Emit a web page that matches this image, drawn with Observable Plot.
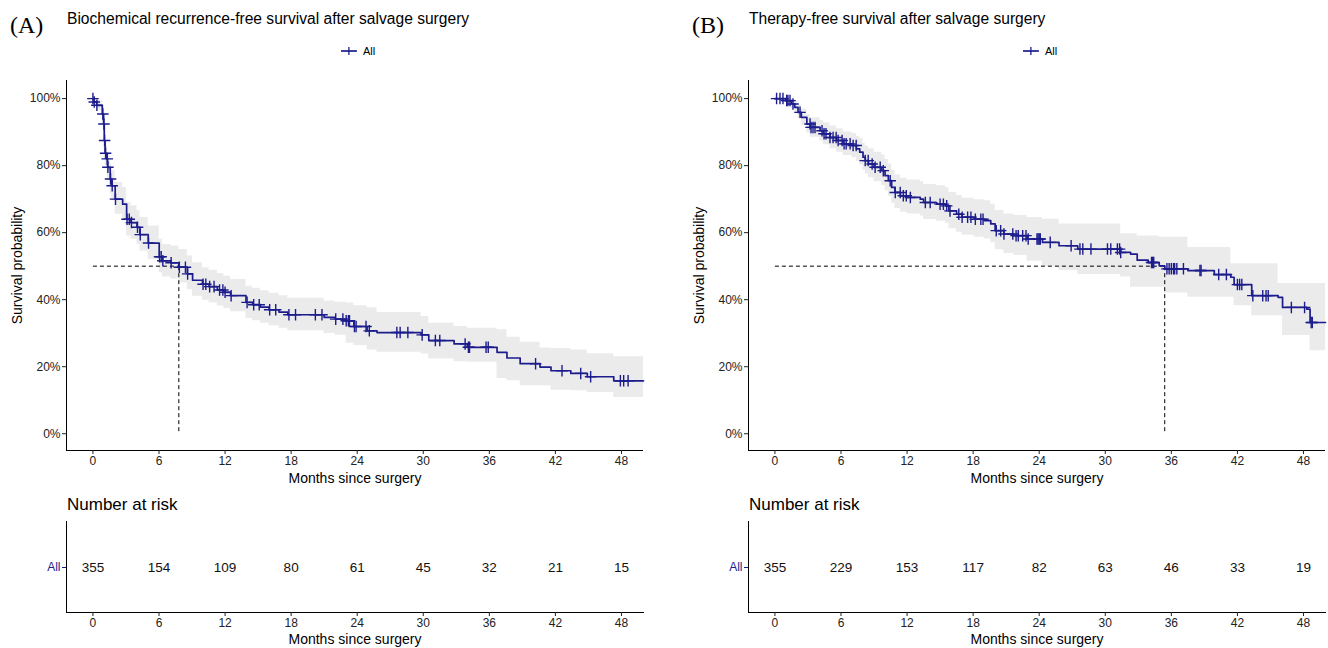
<!DOCTYPE html>
<html><head><meta charset="utf-8">
<script src="https://cdn.jsdelivr.net/npm/d3@7"></script>
<script src="https://cdn.jsdelivr.net/npm/@observablehq/plot@0.6"></script>
<style>
body{margin:0;background:#fff;font-family:"Liberation Sans",Arial,sans-serif;color:#000;}
#root{position:relative;width:1328px;height:648px;overflow:hidden;background:#fff;}
.abs{position:absolute;white-space:nowrap;}
.plotbox{width:660px;}
.plotbox svg{max-width:none !important;display:block;}
.tag{font-family:"Liberation Serif","Times New Roman",serif;font-size:24px;line-height:24px;}
.title{font-size:15.6px;line-height:16px;}
.risk{font-size:17px;line-height:17px;}
.legend{font-size:11px;line-height:12px;display:flex;align-items:center;transform:translateX(-50%);}
.legend svg{margin-right:6px;}
</style></head>
<body><div id="root"></div>
<script>
const monthTicks = [0, 6, 12, 18, 24, 30, 36, 42, 48];
const yTicks = [0, 0.2, 0.4, 0.6, 0.8, 1];
const xDomain = [-2.4, 50];
const yDomain = [-0.05, 1.054];
const navy = "#1c1c8c";
const xTitle = "Months since surgery";
const yTitle = "Survival probability";
const groupLabel = "All";

// Panel A: biochemical recurrence-free survival
const aTitle = "Biochemical recurrence-free survival after salvage surgery";
const aTime  = [0,0.1,0.35,0.85,0.97,1.03,1.1,1.27,1.33,1.57,1.72,2.02,2.7,3.06,3.45,4.0,4.27,5.02,6.02,6.32,7.08,7.8,8.57,9.05,9.95,10.55,11.3,11.9,12.5,13.9,14.5,15.2,16.0,16.9,17.7,21.0,22.0,23.0,23.7,24.9,25.8,29.8,30.5,32.8,34.0,36.7,37.6,38.8,40.6,41.6,43.4,44.9,47.3,50.0];
const aSurv  = [1,0.99,0.98,0.954,0.924,0.875,0.837,0.82,0.795,0.76,0.74,0.70,0.685,0.64,0.63,0.616,0.594,0.569,0.528,0.516,0.51,0.497,0.477,0.458,0.446,0.439,0.429,0.422,0.412,0.392,0.385,0.378,0.37,0.363,0.355,0.347,0.342,0.337,0.32,0.307,0.302,0.295,0.278,0.268,0.258,0.243,0.226,0.209,0.199,0.188,0.18,0.17,0.158,0.158];
const aLower = [1,0.98,0.965,0.93,0.895,0.84,0.80,0.78,0.755,0.715,0.695,0.655,0.635,0.59,0.58,0.565,0.545,0.52,0.48,0.468,0.462,0.45,0.43,0.41,0.398,0.391,0.381,0.374,0.364,0.344,0.337,0.33,0.322,0.315,0.307,0.299,0.294,0.27,0.263,0.25,0.243,0.238,0.223,0.215,0.213,0.165,0.158,0.143,0.143,0.13,0.128,0.123,0.108,0.108];
const aUpper = [1,1,0.995,0.975,0.95,0.91,0.875,0.86,0.84,0.805,0.785,0.75,0.735,0.69,0.68,0.665,0.645,0.62,0.58,0.565,0.56,0.55,0.53,0.51,0.495,0.488,0.478,0.47,0.46,0.44,0.434,0.427,0.419,0.412,0.404,0.396,0.392,0.39,0.382,0.376,0.362,0.35,0.33,0.32,0.315,0.31,0.288,0.273,0.256,0.254,0.25,0.239,0.23,0.23];
const aCensor = [0,0.12,0.36,0.9,1.0,1.06,1.15,1.3,1.36,1.6,1.75,2.05,3.1,3.3,3.5,4.05,4.3,5.05,6.05,6.2,6.35,7.1,7.85,8.4,8.6,10.0,10.25,10.6,11.0,11.5,11.8,12.0,12.55,14.0,14.6,15.1,16.05,16.6,17.8,18.4,20.2,20.8,22.05,22.7,23.0,23.2,23.3,23.75,23.9,24.8,25.1,27.6,27.9,28.6,29.9,31.1,31.5,33.8,34.1,34.2,35.7,35.9,40.2,42.6,44.3,45.2,47.9,48.2,48.6];
const aRisk = [355, 154, 109, 80, 61, 45, 32, 21, 15];

// Panel B: therapy-free survival
const bTitle = "Therapy-free survival after salvage surgery";
const bTime  = [0,1.0,1.5,1.8,2.1,2.4,2.9,3.2,4.1,4.4,5.0,5.6,6.2,7.0,7.4,7.7,8.0,8.2,8.5,9.0,9.7,10.0,10.3,10.6,10.9,11.4,12.0,13.2,13.5,14.7,15.5,15.8,16.5,17.0,18.1,19.0,19.6,20.0,20.8,21.7,22.9,24.3,25.8,27.5,31.4,32.3,32.9,33.9,34.9,35.4,37.5,39.9,41.4,41.7,43.3,45.7,46.1,48.3,48.6,50.0];
const bSurv  = [1,0.994,0.984,0.974,0.959,0.944,0.924,0.914,0.904,0.895,0.884,0.875,0.865,0.86,0.85,0.84,0.825,0.815,0.805,0.795,0.785,0.77,0.755,0.735,0.72,0.71,0.705,0.70,0.69,0.685,0.68,0.665,0.655,0.646,0.64,0.636,0.626,0.606,0.596,0.591,0.581,0.571,0.561,0.551,0.541,0.536,0.518,0.511,0.501,0.492,0.487,0.475,0.467,0.445,0.412,0.407,0.377,0.372,0.332,0.332];
const bLower = [1,0.986,0.97,0.957,0.94,0.92,0.897,0.885,0.873,0.862,0.85,0.84,0.83,0.824,0.813,0.802,0.786,0.775,0.764,0.752,0.741,0.725,0.709,0.688,0.672,0.661,0.656,0.65,0.639,0.634,0.628,0.612,0.601,0.592,0.586,0.581,0.57,0.549,0.538,0.532,0.515,0.50,0.487,0.475,0.468,0.437,0.437,0.437,0.437,0.42,0.407,0.407,0.407,0.382,0.352,0.352,0.293,0.293,0.248,0.248];
const bUpper = [1,1,0.997,0.99,0.98,0.968,0.952,0.943,0.935,0.928,0.918,0.91,0.90,0.896,0.888,0.88,0.867,0.858,0.85,0.84,0.832,0.818,0.805,0.786,0.772,0.762,0.757,0.752,0.744,0.74,0.735,0.72,0.711,0.703,0.698,0.695,0.685,0.666,0.656,0.651,0.645,0.64,0.626,0.626,0.597,0.597,0.59,0.59,0.586,0.586,0.556,0.556,0.507,0.507,0.507,0.448,0.448,0.448,0.448,0.448];
const bCensor = [0.15,0.46,0.73,1.07,1.18,1.37,1.64,2.28,3.19,3.28,3.46,3.64,4.28,4.46,4.64,5.0,5.28,5.56,5.74,6.1,6.28,6.47,6.83,7.1,7.38,8.2,8.47,8.83,9.1,9.56,9.84,10.47,10.93,11.38,11.66,11.93,12.3,13.66,14.1,15.0,15.3,15.6,15.9,16.7,17.0,17.5,17.8,18.2,18.7,18.9,20.1,20.5,20.8,21.6,21.9,22.1,22.5,22.8,23.0,23.8,23.9,24.0,24.1,25.0,26.9,27.7,27.96,28.7,30.2,30.5,31.1,31.3,31.4,34.2,34.3,34.4,35.6,35.8,36.0,36.2,36.3,36.5,37.1,38.6,38.7,40.3,41.0,42.0,42.2,42.4,43.4,44.3,44.6,44.8,46.9,48.1,48.7,48.8];
const bRisk = [355, 229, 153, 117, 82, 63, 46, 33, 19];

const font = "'Liberation Sans', Arial, sans-serif";

function buildSteps(time, surv, lo, hi) {
  return time.map((t, i) => ({t, s: surv[i], lo: lo[i], hi: hi[i]}));
}
function survAt(steps, t) {
  let s = steps[0].s;
  for (const d of steps) { if (d.t <= t) s = d.s; else break; }
  return s;
}

function survPlot(steps, censorTimes) {
  const censor = censorTimes.map(t => ({t, s: survAt(steps, t)}));
  const med = steps.find(d => d.s <= 0.5).t;
  const medLines = [
    {x1: 0, x2: med, y1: 0.5, y2: 0.5},
    {x1: med, x2: med, y1: 0.5, y2: 0}
  ];
  return Plot.plot({
    width: 660, height: 420,
    marginLeft: 66, marginRight: 17, marginTop: 10, marginBottom: 40,
    style: {fontFamily: font, fontSize: "12px", color: "#000", background: "transparent", overflow: "visible"},
    x: {domain: xDomain},
    y: {domain: yDomain},
    marks: [
      Plot.areaY(steps, {x: "t", y1: "lo", y2: "hi", curve: "step-after", fill: "#ebebeb"}),
      Plot.link(medLines, {x1: "x1", x2: "x2", y1: "y1", y2: "y2", stroke: "#000", strokeWidth: 1, strokeDasharray: "4,3"}),
      Plot.line(steps, {x: "t", y: "s", curve: "step-after", stroke: navy, strokeWidth: 1.7}),
      Plot.dot(censor, {x: "t", y: "s", symbol: "plus", r: 3.8, stroke: navy, strokeWidth: 1.4}),
      Plot.ruleX([xDomain[0]], {stroke: "#000", strokeWidth: 1}),
      Plot.ruleY([yDomain[0]], {stroke: "#000", strokeWidth: 1}),
      Plot.axisX({ticks: monthTicks, tickSize: 4, tickPadding: 2, fontSize: 12, label: null, color: "#222"}),
      Plot.axisY({ticks: yTicks, tickFormat: d3.format(".0%"), tickSize: 4, tickPadding: 2, fontSize: 12, label: null, color: "#222"}),
      Plot.text([xTitle], {text: d => d, frameAnchor: "bottom", dy: 28, lineAnchor: "middle", textAnchor: "middle", fontSize: 14, fill: "#000"}),
      Plot.text([yTitle], {text: d => d, frameAnchor: "left", dx: -49, rotate: -90, lineAnchor: "middle", textAnchor: "middle", fontSize: 14, fill: "#000"})
    ]
  });
}

function riskPlot(counts) {
  const rows = monthTicks.map((t, i) => ({t, n: counts[i], g: groupLabel}));
  return Plot.plot({
    width: 660, height: 133,
    marginLeft: 66, marginRight: 17, marginTop: 6, marginBottom: 36,
    style: {fontFamily: font, fontSize: "12px", color: "#000", background: "transparent", overflow: "visible"},
    x: {domain: xDomain},
    y: {type: "point", domain: [groupLabel]},
    marks: [
      Plot.text(rows, {x: "t", y: "g", text: d => String(d.n), fontSize: 13.5, fill: "#111"}),
      Plot.ruleX([xDomain[0]], {stroke: "#000", strokeWidth: 1}),
      Plot.frame({anchor: "bottom", stroke: "#000"}),
      Plot.axisX({ticks: monthTicks, tickSize: 4, tickPadding: 2, fontSize: 12, label: null, color: "#222"}),
      Plot.axisY({tickSize: 4, tickPadding: 2, fontSize: 12, label: null, color: navy}),
      Plot.text([xTitle], {text: d => d, frameAnchor: "bottom", dy: 27, lineAnchor: "middle", textAnchor: "middle", fontSize: 14, fill: "#000"})
    ]
  });
}

const root = document.getElementById("root");
function place(el, left, top, cls) {
  const d = document.createElement("div");
  d.className = "abs" + (cls ? " " + cls : "");
  d.style.left = left + "px"; d.style.top = top + "px";
  if (typeof el === "string") d.textContent = el; else d.appendChild(el);
  root.appendChild(d);
  return d;
}
function legend() {
  const wrap = document.createElement("div");
  wrap.style.display = "flex"; wrap.style.alignItems = "center";
  wrap.innerHTML = `<svg width="16" height="10"><line x1="0" x2="16" y1="5" y2="5" stroke="${navy}" stroke-width="1.7"/><line x1="8" x2="8" y1="1" y2="9" stroke="${navy}" stroke-width="1.3"/></svg><span>${groupLabel}</span>`;
  return wrap;
}

const panels = [
  {off: 0, tag: "(A)", title: aTitle, steps: buildSteps(aTime, aSurv, aLower, aUpper), censor: aCensor, risk: aRisk},
  {off: 682, tag: "(B)", title: bTitle, steps: buildSteps(bTime, bSurv, bLower, bUpper), censor: bCensor, risk: bRisk}
];
for (const p of panels) {
  place(p.tag, p.off + 10, 13, "tag");
  place(p.title, p.off + 67, 11, "title");
  place(legend(), p.off + 358, 45, "legend");
  place(survPlot(p.steps, p.censor), p.off, 70, "plotbox");
  place("Number at risk", p.off + 67, 496, "risk");
  place(riskPlot(p.risk), p.off, 515, "plotbox");
}
</script>
</body></html>
